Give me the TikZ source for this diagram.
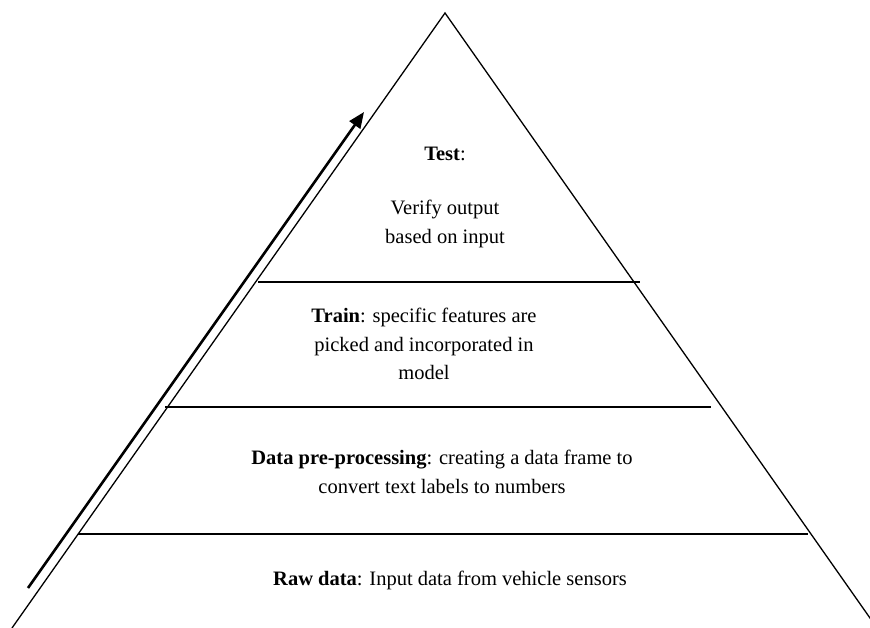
\documentclass[tikz,border=0pt]{standalone}
\usepackage{fontspec}
\setmainfont{Liberation Serif}
\usetikzlibrary{arrows.meta}
\begin{document}
\begin{tikzpicture}[x=1pt,y=-1pt,
  edge/.style={line width=1.3pt,black},
  level/.style={line width=1.4pt,black},
  lbl/.style={font=\fontsize{20.5}{28.5}\selectfont,align=center,inner sep=0pt},
  uparrow/.style={line width=2.6pt,-{Triangle[length=16pt,width=13pt]}}]
\useasboundingbox (0,0) rectangle (870,628);
% pyramid corners
\coordinate (apex) at (445,13);
\coordinate (bl) at (12,628);
\coordinate (br) at (877,628);
\draw[edge,line join=miter] (bl) -- (apex) -- (br);
% level lines
\coordinate (l1a) at (258,282); \coordinate (l1b) at (640,282);
\coordinate (l2a) at (165,407); \coordinate (l2b) at (711,407);
\coordinate (l3a) at (78,534);  \coordinate (l3b) at (808,534);
\draw[level] (l1a) -- (l1b);
\draw[level] (l2a) -- (l2b);
\draw[level] (l3a) -- (l3b);
% arrow
\coordinate (atail) at (28,588);
\coordinate (ahead) at (364,112);
\draw[uparrow] (atail) -- (ahead);
% labels
\node[lbl] (test) at (445,154) {\textbf{Test}:};
\node[lbl] (verify) at (445,224) {Verify output\\based on input};
\node[lbl] (train) at (424,344) {\textbf{Train}: specific features are\\picked and incorporated in\\model};
\node[lbl] (prep) at (442,472) {\textbf{Data pre-processing}: creating a data frame to\\convert text labels to numbers};
\node[lbl] (raw) at (450,580) {\textbf{Raw data}: Input data from vehicle sensors};
\end{tikzpicture}
\end{document}
